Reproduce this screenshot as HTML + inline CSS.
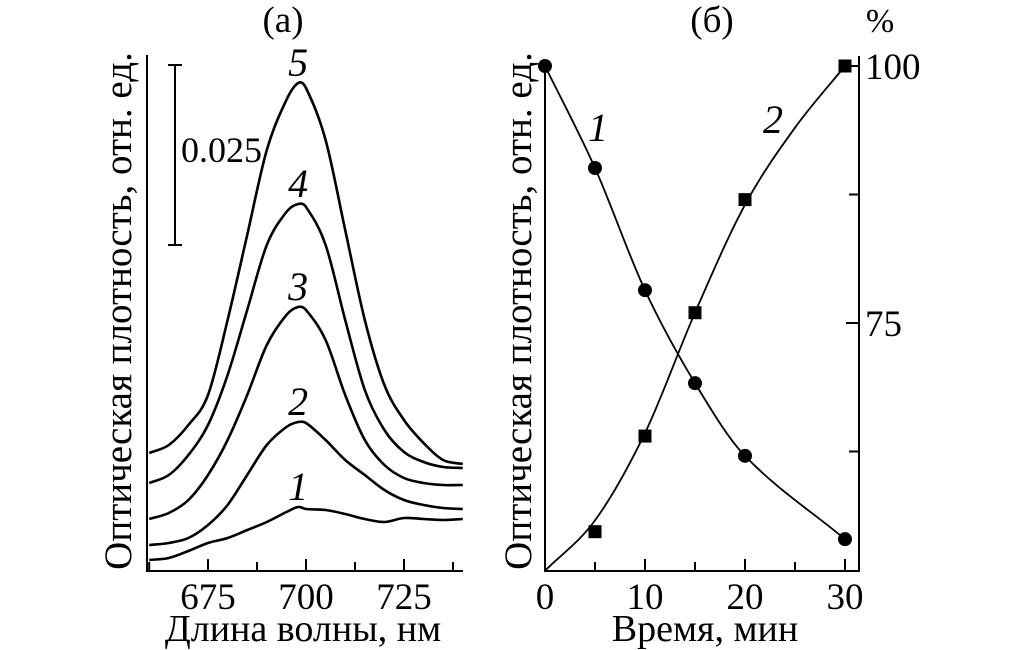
<!DOCTYPE html>
<html><head><meta charset="utf-8"><style>
html,body{margin:0;padding:0;background:#fff}
svg{display:block}
text{font-family:"Liberation Serif",serif;fill:#000}
</style></head><body>
<svg id="chart" width="1010" height="650" viewBox="0 0 1010 650">
<g id="pa"></g>
<g id="pb"></g>
</svg>
<script>
// ---- Panel (a) data ----
const wavelengths = [660,665,670,675,680,685,690,695,698,700,705,710,715,720,725,730,735,740];
// absorbance (rel. units), scale bar = 0.025
const curve1 = [0.00153,0.00181,0.00278,0.00389,0.00458,0.00569,0.00681,0.00819,0.00889,0.00861,0.00847,0.00792,0.00722,0.00681,0.00736,0.00722,0.00708,0.00722];
const curve2 = [0.00361,0.00389,0.00458,0.00639,0.00917,0.01333,0.01750,0.02000,0.02069,0.02056,0.01819,0.01542,0.01333,0.01125,0.00986,0.00917,0.00875,0.00861];
const curve3 = [0.00722,0.00806,0.00986,0.01333,0.01819,0.02444,0.03139,0.03556,0.03667,0.03625,0.03208,0.02444,0.01819,0.01472,0.01292,0.01222,0.01194,0.01194];
const curve4 = [0.01222,0.01333,0.01611,0.02028,0.02722,0.03625,0.04528,0.04986,0.05097,0.05056,0.04528,0.03486,0.02514,0.01958,0.01653,0.01514,0.01444,0.01431];
const curve5 = [0.01639,0.01750,0.02028,0.02444,0.03486,0.04667,0.05847,0.06542,0.06778,0.06708,0.05986,0.04736,0.03486,0.02583,0.02097,0.01778,0.01542,0.01486];
const spectraLabels = ["1","2","3","4","5"];
const xTicksA = [675,700,725];
const xMinorA = [660,687.5,712.5,737.5];
// ---- Panel (b) data ----
const timeCircles = [0,5,10,15,20,30];
const odCircles = [1.0,0.798,0.556,0.372,0.228,0.063];
const timeSquares = [5,10,15,20,30];
const pctSquares = [54.7,64.0,76.0,87.0,100];
const timeFit2 = [0,5,10,15,20,25,30];
const pctFit2 = [50.9,55.8,64.3,76.0,86.5,94.0,100];
const xTicksB = [0,10,20,30];
const xMinorB = [5,15,25];
const yTicksPct = [100,75];
const yMinorPct = [87.5,62.5];

const NS="http://www.w3.org/2000/svg";
function mk(parent,tag,attrs,txt){const e=document.createElementNS(NS,tag);for(const k in attrs)e.setAttribute(k,attrs[k]);if(txt!==undefined)e.textContent=txt;parent.appendChild(e);return e;}
function smooth(pts){
 const n=pts.length,m=[];
 for(let i=0;i<n;i++){const a=pts[Math.max(0,i-1)],b=pts[Math.min(n-1,i+1)];m.push((b[1]-a[1])/(b[0]-a[0]));}
 let d="M"+pts[0][0].toFixed(1)+","+pts[0][1].toFixed(1);
 for(let i=0;i<n-1;i++){const p1=pts[i],p2=pts[i+1],dx=(p2[0]-p1[0])/3;
  d+=" C"+(p1[0]+dx).toFixed(1)+","+(p1[1]+m[i]*dx).toFixed(1)+" "+(p2[0]-dx).toFixed(1)+","+(p2[1]-m[i+1]*dx).toFixed(1)+" "+p2[0].toFixed(1)+","+p2[1].toFixed(1);}
 return d;}

// Panel a
const pa=document.getElementById('pa');
const xA=l=>306+(l-700)*3.92;
const yA=v=>571-v*180/0.025;
let e;
e=mk(pa,'line',{x1:147,y1:55,x2:147,y2:571,stroke:'#000','stroke-width':2});

e=mk(pa,'line',{x1:146,y1:571,x2:463,y2:571,stroke:'#000','stroke-width':2});

xTicksA.forEach(t=>{
 e=mk(pa,'line',{x1:xA(t),y1:571,x2:xA(t),y2:559,stroke:'#000','stroke-width':2});
 
 e=mk(pa,'text',{x:xA(t),y:609,'font-size':37,'text-anchor':'middle'},String(t));
 
});
xMinorA.forEach(t=>{
 e=mk(pa,'line',{x1:xA(t),y1:571,x2:xA(t),y2:562,stroke:'#000','stroke-width':2});
 
});
const allCurves=[curve1,curve2,curve3,curve4,curve5];
allCurves.forEach((c,i)=>{
 const pts=wavelengths.map((l,j)=>[xA(l),yA(c[j])]);
 e=mk(pa,'path',{d:smooth(pts),fill:'none',stroke:'#000','stroke-width':2.6});
 
 const pk=Math.max(...c);
 e=mk(pa,'text',{x:xA(698),y:yA(pk)-7,'font-size':40,'font-style':'italic','text-anchor':'middle'},spectraLabels[i]);
 
});
e=mk(pa,'path',{d:'M168,65 H182 M175,65 V245 M168,245 H182',stroke:'#000','stroke-width':2,fill:'none'});

e=mk(pa,'text',{x:181,y:162,'font-size':36},'0.025');

e=mk(pa,'text',{x:283,y:32,'font-size':37,'text-anchor':'middle'},'(а)');

e=mk(pa,'text',{x:0,y:0,'font-size':39,'text-anchor':'middle',transform:'translate(131,311) rotate(-90)'},'Оптическая плотность, отн. ед.');

e=mk(pa,'text',{x:303,y:641,'font-size':38,'text-anchor':'middle'},'Длина волны, нм');


// Panel b
const pb=document.getElementById('pb');
const xB=t=>545+t*10;
const yL=v=>571-v*505;
const yP=p=>66+(100-p)*10.28;
e=mk(pb,'line',{x1:545,y1:62,x2:545,y2:571,stroke:'#000','stroke-width':2});

e=mk(pb,'line',{x1:859,y1:56,x2:859,y2:571,stroke:'#000','stroke-width':2});

e=mk(pb,'line',{x1:544,y1:571,x2:860,y2:571,stroke:'#000','stroke-width':2});

xTicksB.forEach(t=>{
 e=mk(pb,'line',{x1:xB(t),y1:571,x2:xB(t),y2:559,stroke:'#000','stroke-width':2});
 
 e=mk(pb,'text',{x:xB(t),y:609,'font-size':37,'text-anchor':'middle'},String(t));
 
});
xMinorB.forEach(t=>{
 e=mk(pb,'line',{x1:xB(t),y1:571,x2:xB(t),y2:562,stroke:'#000','stroke-width':2});
 
});
yTicksPct.forEach(p=>{
 e=mk(pb,'line',{x1:846,y1:yP(p),x2:859,y2:yP(p),stroke:'#000','stroke-width':2});
 
 e=mk(pb,'text',{x:865,y:yP(p)+13,'font-size':37},String(p));
 
});
yMinorPct.forEach(p=>{
 e=mk(pb,'line',{x1:849,y1:yP(p),x2:859,y2:yP(p),stroke:'#000','stroke-width':2});
 
});
e=mk(pb,'path',{d:smooth(timeCircles.map((t,i)=>[xB(t),yL(odCircles[i])])),fill:'none',stroke:'#000','stroke-width':1.8});

e=mk(pb,'path',{d:smooth(timeFit2.map((t,i)=>[xB(t),yP(pctFit2[i])])),fill:'none',stroke:'#000','stroke-width':1.8});

timeCircles.forEach((t,i)=>{
 e=mk(pb,'circle',{cx:xB(t),cy:yL(odCircles[i]),r:7,fill:'#000'});
 
});
timeSquares.forEach((t,i)=>{
 e=mk(pb,'rect',{x:xB(t)-6.5,y:yP(pctSquares[i])-6.5,width:13,height:13,fill:'#000'});
 
});
e=mk(pb,'text',{x:598,y:141,'font-size':40,'font-style':'italic','text-anchor':'middle'},'1');

e=mk(pb,'text',{x:773,y:133,'font-size':40,'font-style':'italic','text-anchor':'middle'},'2');

e=mk(pb,'text',{x:712,y:32,'font-size':37,'text-anchor':'middle'},'(б)');

e=mk(pb,'text',{x:880,y:32,'font-size':34,'text-anchor':'middle'},'%');

e=mk(pb,'text',{x:0,y:0,'font-size':39,'text-anchor':'middle',transform:'translate(531,311) rotate(-90)'},'Оптическая плотность, отн. ед.');

e=mk(pb,'text',{x:705,y:641,'font-size':38,'text-anchor':'middle'},'Время, мин');

</script>
</body></html>
